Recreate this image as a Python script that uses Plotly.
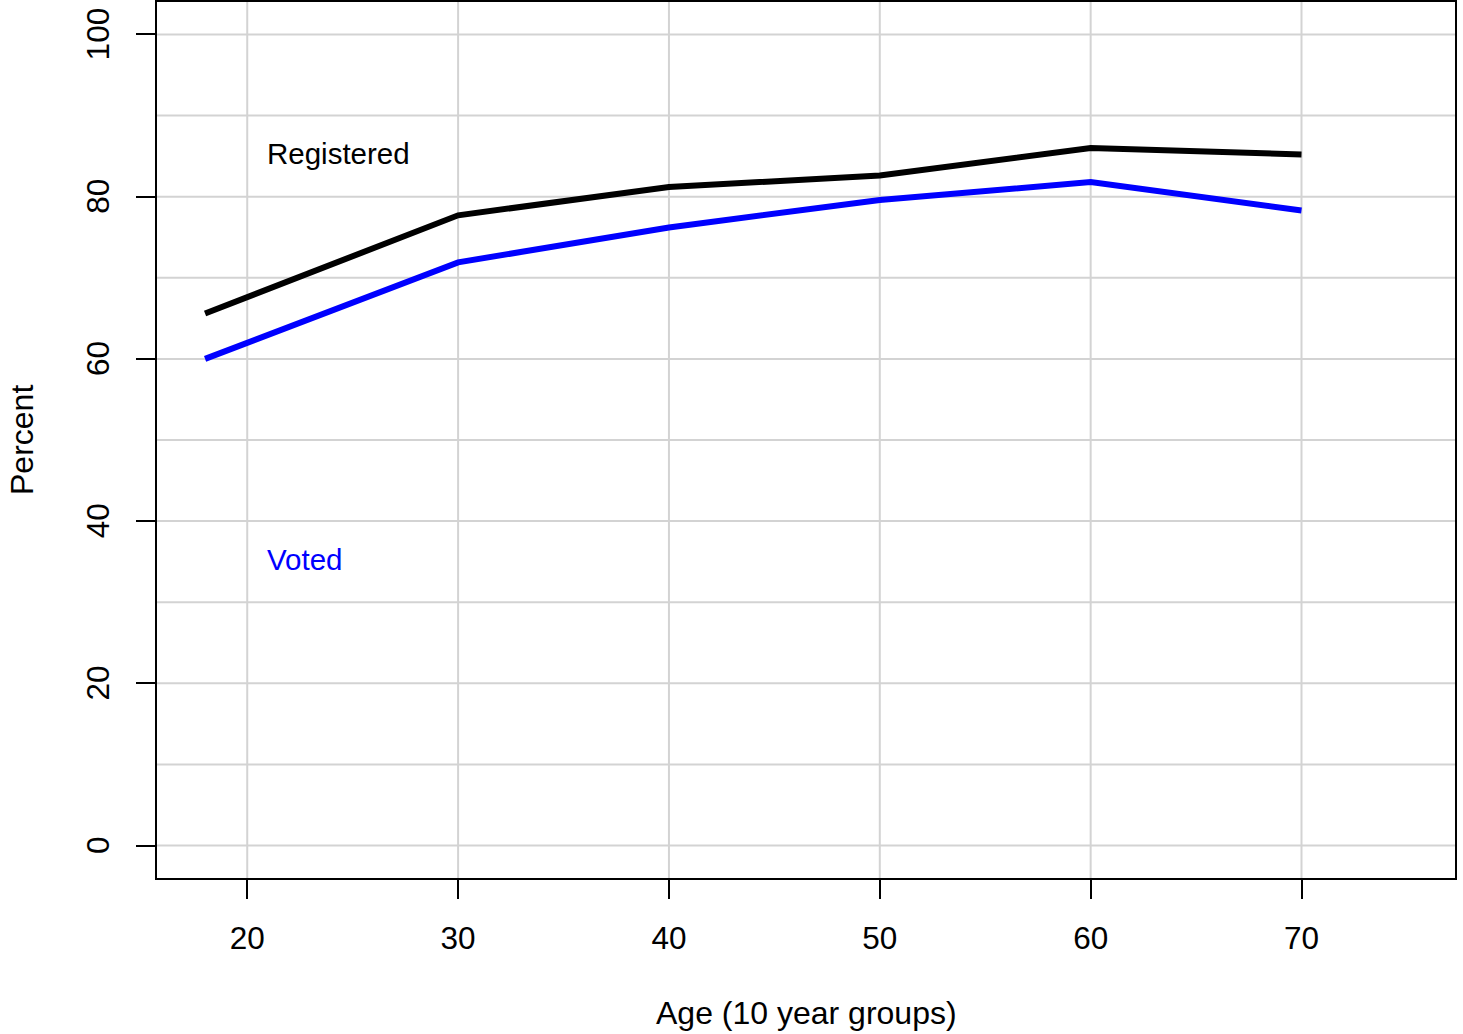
import plotly.graph_objects as go

ages = [18, 30, 40, 50, 60, 70]
registered = [65.6, 77.7, 81.2, 82.6, 86.0, 85.2]
voted = [60.0, 71.9, 76.2, 79.6, 81.8, 78.3]
x_ticks = [20, 30, 40, 50, 60, 70]
y_ticks = [0, 20, 40, 60, 80, 100]

FONT = "Liberation Sans, Arial, sans-serif"

fig = go.Figure()

# grid lines drawn as shapes (R style: full span)
for gx in x_ticks:
    fig.add_shape(type="line", xref="x", yref="paper", x0=gx, x1=gx, y0=0, y1=1,
                  line=dict(color="#D3D3D3", width=2), layer="below")
for gy in range(0, 101, 10):
    fig.add_shape(type="line", xref="paper", yref="y", x0=0, x1=1, y0=gy, y1=gy,
                  line=dict(color="#D3D3D3", width=2), layer="below")

fig.add_trace(go.Scatter(x=ages, y=registered, mode="lines",
                         line=dict(color="black", width=6), showlegend=False))
fig.add_trace(go.Scatter(x=ages, y=voted, mode="lines",
                         line=dict(color="#0000FF", width=6), showlegend=False))

fig.add_annotation(x=21, y=85.3, xref="x", yref="y", text="Registered", showarrow=False,
                   xanchor="left", yanchor="middle", xshift=-3,
                   font=dict(size=29.5, color="black", family=FONT))
fig.add_annotation(x=21, y=35.3, xref="x", yref="y", text="Voted", showarrow=False,
                   xanchor="left", yanchor="middle", xshift=-3,
                   font=dict(size=29.5, color="#0000FF", family=FONT))

fig.add_annotation(x=0.5, y=0, xref="paper", yref="paper", text="Age (10 year groups)",
                   showarrow=False, xanchor="center", yanchor="middle", yshift=-135,
                   font=dict(size=32, color="black", family=FONT))
fig.add_annotation(x=0, y=0.5, xref="paper", yref="paper", text="Percent",
                   showarrow=False, xanchor="center", yanchor="middle", xshift=-135,
                   textangle=-90, font=dict(size=32, color="black", family=FONT))

fig.update_xaxes(range=[15.72, 77.28], tickvals=x_ticks, ticktext=[str(v) for v in x_ticks],
                 showgrid=False, zeroline=False, ticks="outside", ticklen=19, tickwidth=2,
                 tickcolor="black", showline=True, linecolor="black", linewidth=2, mirror=True,
                 tickfont=dict(size=31.5, color="black", family=FONT), ticklabelstandoff=12,
                 automargin=False, ticklabeloverflow="allow")
fig.update_yaxes(range=[-4, 104], tickvals=y_ticks,
                 ticktext=[str(v) + "\u00a0" for v in y_ticks],
                 showgrid=False, zeroline=False, ticks="outside", ticklen=19, tickwidth=2,
                 tickcolor="black", showline=True, linecolor="black", linewidth=2, mirror=True,
                 tickangle=-90, tickfont=dict(size=31.5, color="black", family=FONT),
                 ticklabelstandoff=14, automargin=False, ticklabeloverflow="allow")

fig.update_layout(width=1463, height=1034, margin=dict(l=157, r=8, t=2, b=156, autoexpand=False),
                  plot_bgcolor="white", paper_bgcolor="white", font=dict(family=FONT))

fig.write_html("out.html", config={"displayModeBar": False},
               post_script="document.body.style.margin='0';document.body.style.overflow='hidden';")
